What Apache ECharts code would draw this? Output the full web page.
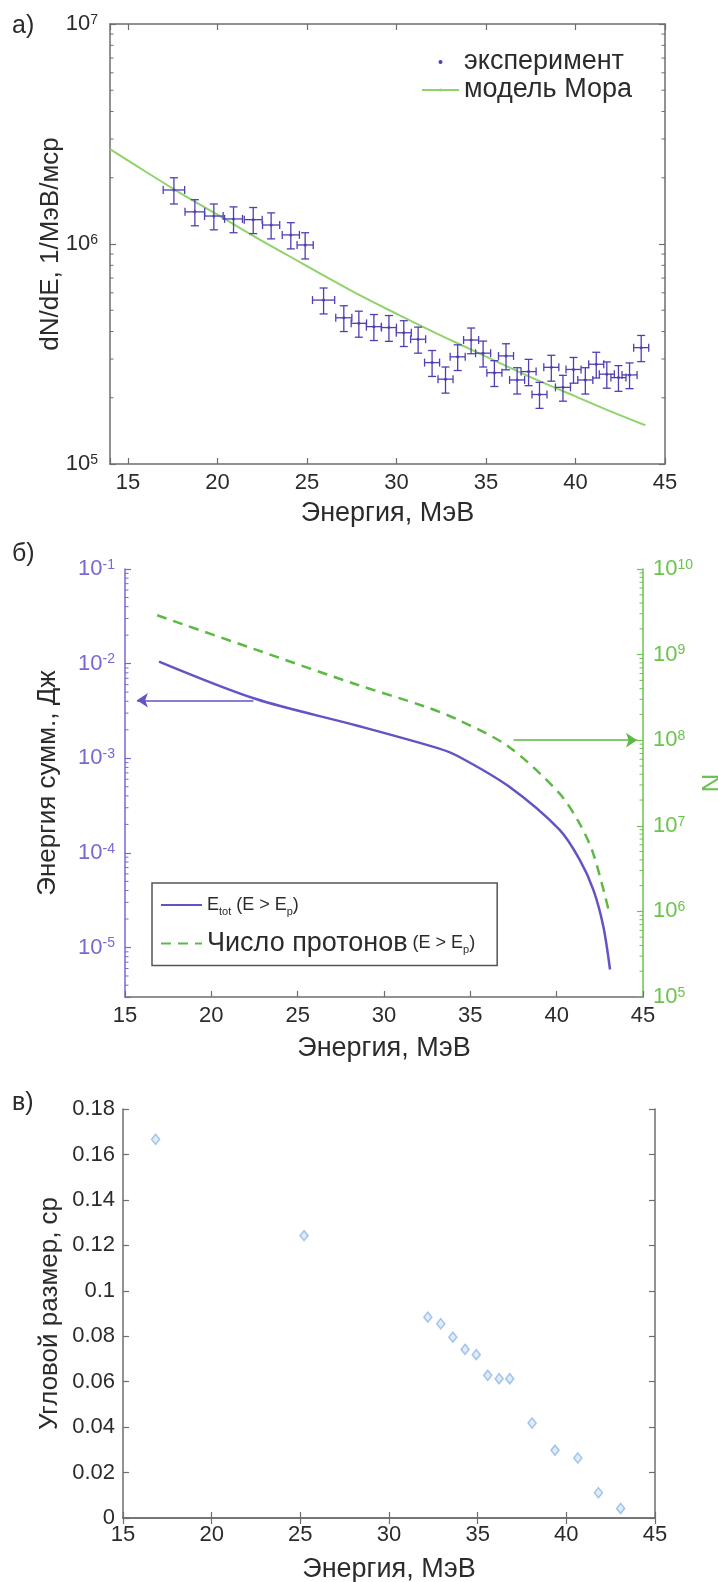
<!DOCTYPE html>
<html><head><meta charset="utf-8">
<script src="https://cdn.jsdelivr.net/npm/echarts@6/dist/echarts.min.js"></script>
<style>html,body{margin:0;padding:0;background:#fff}#c{width:718px;height:1582px}</style>
</head><body><div id="c"></div>
<script>
// ---------- Panel а) : spectrum ----------
const expE   = [17.57,18.74,19.80,20.90,22.00,23.00,24.10,24.90,25.93,27.06,27.90,28.74,29.58,30.41,31.21,31.99,32.74,33.42,34.17,34.84,35.47,36.12,36.74,37.38,37.99,38.65,39.30,39.89,40.55,41.16,41.75,42.40,43.02,43.67];
const expN   = [1.76e6,1.40e6,1.34e6,1.30e6,1.29e6,1.22e6,1.10e6,0.99e6,5.56e5,4.62e5,4.36e5,4.21e5,4.17e5,3.95e5,3.69e5,2.89e5,2.43e5,3.07e5,3.66e5,3.19e5,2.60e5,3.10e5,2.41e5,2.63e5,2.07e5,2.75e5,2.23e5,2.69e5,2.41e5,2.84e5,2.56e5,2.47e5,2.54e5,3.38e5];
const expErrE= [0.60,0.55,0.52,0.50,0.50,0.48,0.48,0.45,0.62,0.45,0.43,0.42,0.42,0.42,0.42,0.42,0.42,0.42,0.42,0.42,0.42,0.42,0.42,0.42,0.42,0.42,0.42,0.42,0.42,0.42,0.42,0.42,0.42,0.42];
const expErrN= [2.4e5,1.9e5,1.8e5,1.75e5,1.75e5,1.65e5,1.5e5,1.35e5,7.5e4,6.2e4,5.9e4,5.7e4,5.6e4,5.3e4,5.0e4,3.9e4,3.3e4,4.1e4,4.9e4,4.3e4,3.5e4,4.2e4,3.3e4,3.6e4,2.8e4,3.7e4,3.0e4,3.6e4,3.3e4,3.8e4,3.5e4,3.3e4,3.4e4,4.6e4];
const modelE = [14,16,18,20,22,24,26,28,30,32,34,36,38,40,42,43.9];
const modelN = [2.70e6,2.13e6,1.69e6,1.36e6,1.09e6,8.82e5,7.15e5,5.82e5,4.82e5,4.01e5,3.36e5,2.82e5,2.38e5,2.03e5,1.73e5,1.50e5];
const minorA = [2e5,3e5,4e5,5e5,6e5,7e5,8e5,9e5,2e6,3e6,4e6,5e6,6e6,7e6,8e6,9e6];

// ---------- Panel б) : total energy and number of protons ----------
const etotE  = [16.97,22.54,28.41,33.11,34.29,37.22,40.16,41.33,42.12,42.70,43.09];
const etotJ  = [1.05e-2,4.25e-3,2.22e-3,1.28e-3,1.05e-3,5.05e-4,1.76e-4,8.5e-5,4.09e-5,1.68e-5,5.86e-6];
const numE   = [16.86,22.54,28.41,32.33,34.29,37.22,40.16,41.33,42.12,43.04];
const numN   = [2.88e9,1.15e9,4.47e8,2.49e8,1.73e8,8.4e7,2.39e7,1.06e7,4.73e6,9.8e5];
const arrowL = [[22.44,4.1e-3],[15.69,4.1e-3]];
const arrowR = [[37.5,1e8],[44.65,1e8]];
const minorBL = [4e-6,5e-6,6e-6,7e-6,8e-6,9e-6,2e-5,3e-5,4e-5,5e-5,6e-5,7e-5,8e-5,9e-5,2e-4,3e-4,4e-4,5e-4,6e-4,7e-4,8e-4,9e-4,2e-3,3e-3,4e-3,5e-3,6e-3,7e-3,8e-3,9e-3,2e-2,3e-2,4e-2,5e-2,6e-2,7e-2,8e-2,9e-2];
const minorBR = [2e5,3e5,4e5,5e5,6e5,7e5,8e5,9e5,2e6,3e6,4e6,5e6,6e6,7e6,8e6,9e6,2e7,3e7,4e7,5e7,6e7,7e7,8e7,9e7,2e8,3e8,4e8,5e8,6e8,7e8,8e8,9e8,2e9,3e9,4e9,5e9,6e9,7e9,8e9,9e9];

// ---------- Panel в) : angular size ----------
const angE   = [16.84,25.21,32.19,32.92,33.60,34.29,34.92,35.57,36.21,36.81,38.07,39.36,40.65,41.81,43.06];
const angSr  = [0.1667,0.1243,0.0884,0.0855,0.0796,0.0742,0.0719,0.0628,0.0613,0.0613,0.0418,0.0298,0.0264,0.0111,0.0042];

const FF = '"Liberation Sans", Arial, Helvetica, sans-serif';
const TXT = '#2b2b2b', GRAY = '#6e6e6e';
const P_ERR = '#4f3fb3', G_MODEL = '#8fd46a';
const P_LINE = '#6652c4', P_AX = '#7a67d4';
const G_DASH = '#5bb944', G_AX = '#6ac34d';
const B_EDGE = '#8cb6e6', B_FILL = '#d8e7f8';

function powRich(color){
  return {
    b:{fontSize:22, fontFamily:FF, color:color, lineHeight:22, padding:[8,0,0,0], verticalAlign:'bottom'},
    s:{fontSize:14, fontFamily:FF, color:color, lineHeight:14, verticalAlign:'top'}
  };
}
function powFmt(v){
  const e = Math.log10(v), r = Math.round(e);
  if (Math.abs(e - r) > 1e-6) return '';
  return '{b|10}{s|' + r + '}';
}
const nameStyleY = {fontSize:26, fontFamily:FF, color:TXT};
const nameStyleX = {fontSize:27, fontFamily:FF, color:TXT};
const lblStyle = {fontSize:22, fontFamily:FF, color:TXT};
function axLine(c){ return {show:true, lineStyle:{color:c, width:1.5}}; }
function tick(c){ return {show:true, inside:true, length:6, lineStyle:{color:c, width:1.2}}; }

function minorTicks(xi, yi, vals, xmin, xmax, color, left, right){
  return {
    type:'custom', xAxisIndex:xi, yAxisIndex:yi, silent:true, clip:false, z:5,
    data: vals.map(v => [xmin, v]), encode:{x:0, y:1},
    renderItem:(p, api) => {
      const v = api.value(1);
      const a = api.coord([xmin, v]), b = api.coord([xmax, v]);
      const ch = [];
      if (left) ch.push({type:'line', shape:{x1:a[0], y1:a[1], x2:a[0]+3.5, y2:a[1]}, style:{stroke:color, lineWidth:1}});
      if (right) ch.push({type:'line', shape:{x1:b[0]-3.5, y1:b[1], x2:b[0], y2:b[1]}, style:{stroke:color, lineWidth:1}});
      return {type:'group', children:ch};
    }
  };
}

const chart = echarts.init(document.getElementById('c'), null, {renderer:'canvas'});
const option = {
  animation:false,
  backgroundColor:'#fff',
  title:[
    {text:'а)', left:12, top:14, padding:0, textStyle:{fontSize:25, fontWeight:'normal', fontFamily:FF, color:TXT}},
    {text:'б)', left:12, top:542, padding:0, textStyle:{fontSize:25, fontWeight:'normal', fontFamily:FF, color:TXT}},
    {text:'в)', left:12, top:1091, padding:0, textStyle:{fontSize:25, fontWeight:'normal', fontFamily:FF, color:TXT}}
  ],
  grid:[
    {left:110, top:24, width:555, height:440, outerBoundsMode:'none', containLabel:false},
    {left:125, top:569, width:518, height:428, outerBoundsMode:'none', containLabel:false},
    {left:123, top:1109, width:532, height:409, outerBoundsMode:'none', containLabel:false}
  ],
  legend:[
    {left:421, top:48, orient:'vertical', itemWidth:37, itemHeight:4, itemGap:0, padding:0, selectedMode:false,
     data:[{name:'эксперимент', icon:'circle'}, {name:'модель Мора'}],
     textStyle:{fontSize:27, fontFamily:FF, color:TXT, lineHeight:28}},
    {left:152, top:883, orient:'vertical', itemWidth:41, itemHeight:2, itemGap:10, padding:[13,22,7,8],
     borderColor:'#555', borderWidth:1.5, backgroundColor:'#fff', selectedMode:false,
     data:[{name:'Etot'}, {name:'Nprot'}],
     formatter: n => n === 'Etot' ? '{e|E}{sub|tot}{e| (E > E}{sub|p}{e|)}' : '{big|Число протонов}{e| (E > E}{sub|p}{e|)}',
     textStyle:{fontFamily:FF, color:TXT, rich:{
       e:{fontSize:18, fontFamily:FF, color:TXT, lineHeight:30},
       big:{fontSize:27, fontFamily:FF, color:TXT, lineHeight:30},
       sub:{fontSize:11, fontFamily:FF, color:TXT, lineHeight:12, verticalAlign:'bottom', padding:[0,0,3,0]}
     }}}
  ],
  xAxis:[
    {gridIndex:0, type:'value', min:14, max:45, splitNumber:6, position:'bottom',
     axisLine:axLine(GRAY), axisTick:tick(GRAY), splitLine:{show:false},
     axisLabel:{margin:8, ...lblStyle, formatter:v => (v % 5 === 0 ? String(v) : '')},
     name:'Энергия, МэВ', nameLocation:'middle', nameGap:36, nameMoveOverlap:false, nameTextStyle:nameStyleX},
    {gridIndex:0, type:'value', min:14, max:45, splitNumber:6, position:'top',
     axisLine:axLine(GRAY), axisTick:tick(GRAY), splitLine:{show:false}, axisLabel:{show:false}},
    {gridIndex:1, type:'value', min:15, max:45, interval:5, position:'bottom',
     axisLine:axLine(GRAY), axisTick:tick(GRAY), splitLine:{show:false},
     axisLabel:{margin:8, ...lblStyle},
     name:'Энергия, МэВ', nameLocation:'middle', nameGap:38, nameMoveOverlap:false, nameTextStyle:nameStyleX},
    {gridIndex:2, type:'value', min:15, max:45, interval:5, position:'bottom',
     axisLine:axLine(GRAY), axisTick:tick(GRAY), splitLine:{show:false},
     axisLabel:{margin:6, ...lblStyle},
     name:'Энергия, МэВ', nameLocation:'middle', nameGap:38, nameMoveOverlap:false, nameTextStyle:nameStyleX},
    {gridIndex:2, type:'value', min:15, max:45, interval:5, position:'top',
     axisLine:axLine(GRAY), axisTick:tick(GRAY), splitLine:{show:false}, axisLabel:{show:false}}
  ],
  yAxis:[
    {gridIndex:0, type:'log', logBase:10, min:1e5, max:1e7, position:'left',
     axisLine:axLine(GRAY), axisTick:tick(GRAY), splitLine:{show:false},
     axisLabel:{margin:12, formatter:powFmt, rich:powRich(TXT)},
     name:'dN/dE, 1/МэВ/мср', nameLocation:'middle', nameGap:46, nameRotate:90, nameMoveOverlap:false, nameTextStyle:nameStyleY},
    {gridIndex:0, type:'log', logBase:10, min:1e5, max:1e7, position:'right',
     axisLine:axLine(GRAY), axisTick:tick(GRAY), splitLine:{show:false}, axisLabel:{show:false}},
    {gridIndex:1, type:'log', logBase:10, min:3e-6, max:0.1, position:'left',
     axisLine:axLine(P_AX), axisTick:tick(P_AX), splitLine:{show:false},
     axisLabel:{margin:10, formatter:powFmt, rich:powRich(P_AX)},
     name:'Энергия сумм., Дж', nameLocation:'middle', nameGap:64, nameRotate:90, nameMoveOverlap:false, nameTextStyle:nameStyleY},
    {gridIndex:1, type:'log', logBase:10, min:1e5, max:1e10, position:'right',
     axisLine:axLine(G_AX), axisTick:tick(G_AX), splitLine:{show:false},
     axisLabel:{margin:10, formatter:powFmt, rich:powRich(G_AX)},
     name:'N', nameLocation:'middle', nameGap:57, nameRotate:90, nameMoveOverlap:false, nameTextStyle:{...nameStyleY, color:G_AX}},
    {gridIndex:2, type:'value', min:0, max:0.18, interval:0.02, position:'left',
     axisLine:axLine(GRAY), axisTick:tick(GRAY), splitLine:{show:false},
     axisLabel:{margin:8, ...lblStyle},
     name:'Угловой размер, ср', nameLocation:'middle', nameGap:60, nameRotate:90, nameMoveOverlap:false, nameTextStyle:nameStyleY},
    {gridIndex:2, type:'value', min:0, max:0.18, interval:0.02, position:'right',
     axisLine:axLine(GRAY), axisTick:tick(GRAY), splitLine:{show:false}, axisLabel:{show:false}}
  ],
  series:[
    {name:'модель Мора', type:'line', xAxisIndex:0, yAxisIndex:0, symbol:'none', smooth:0.4,
     data: modelE.map((e,i)=>[e, modelN[i]]), lineStyle:{color:G_MODEL, width:2}, itemStyle:{color:G_MODEL}, z:3},
    {name:'эксперимент', type:'custom', xAxisIndex:0, yAxisIndex:0, clip:false, z:4,
     itemStyle:{color:P_ERR},
     data: expE.map((e,i)=>[e, expN[i], expErrE[i], expErrN[i]]), encode:{x:0, y:1},
     renderItem:(p, api) => {
       const x = api.value(0), y = api.value(1), dx = api.value(2), dy = api.value(3);
       const c = api.coord([x,y]), l = api.coord([x-dx,y]), r = api.coord([x+dx,y]);
       const t = api.coord([x,y+dy]), b = api.coord([x,y-dy]);
       const st = {stroke:P_ERR, lineWidth:1.3};
       const k = 4;
       const L = (x1,y1,x2,y2) => ({type:'line', shape:{x1,y1,x2,y2}, style:st});
       return {type:'group', children:[
         L(l[0],l[1],r[0],r[1]), L(t[0],t[1],b[0],b[1]),
         L(t[0]-k,t[1],t[0]+k,t[1]), L(b[0]-k,b[1],b[0]+k,b[1]),
         L(l[0],l[1]-k,l[0],l[1]+k), L(r[0],r[1]-k,r[0],r[1]+k),
         {type:'circle', shape:{cx:c[0], cy:c[1], r:1.5}, style:{fill:P_ERR}}
       ]};
     }},
    minorTicks(0, 0, minorA, 14, 45, GRAY, true, true),

    {name:'Etot', type:'line', xAxisIndex:2, yAxisIndex:2, symbol:'none', smooth:0.3,
     data: etotE.map((e,i)=>[e, etotJ[i]]), lineStyle:{color:P_LINE, width:2.5}, itemStyle:{color:P_LINE},
     markLine:{silent:true, symbol:['none','arrow'], symbolSize:11, animation:false, label:{show:false},
       lineStyle:{color:P_LINE, width:1.5, type:'solid'}, emphasis:{disabled:true},
       data:[[{coord:arrowL[0]}, {coord:arrowL[1]}]]}},
    {name:'Nprot', type:'line', xAxisIndex:2, yAxisIndex:3, symbol:'none', smooth:0.3,
     data: numE.map((e,i)=>[e, numN[i]]), lineStyle:{color:G_DASH, width:2.5, type:[10,7]}, itemStyle:{color:G_DASH},
     markLine:{silent:true, symbol:['none','arrow'], symbolSize:11, animation:false, label:{show:false},
       lineStyle:{color:G_DASH, width:1.5, type:'solid'}, emphasis:{disabled:true},
       data:[[{coord:arrowR[0]}, {coord:arrowR[1]}]]}},
    minorTicks(2, 2, minorBL, 15, 45, P_AX, true, false),
    minorTicks(2, 3, minorBR, 15, 45, G_AX, false, true),

    {name:'angle', type:'scatter', xAxisIndex:3, yAxisIndex:4, symbol:'diamond', symbolSize:[8,10],
     data: angE.map((e,i)=>[e, angSr[i]]), itemStyle:{color:B_FILL, borderColor:B_EDGE, borderWidth:1.5}}
  ]
};
chart.setOption(option);
</script>
</body></html>
